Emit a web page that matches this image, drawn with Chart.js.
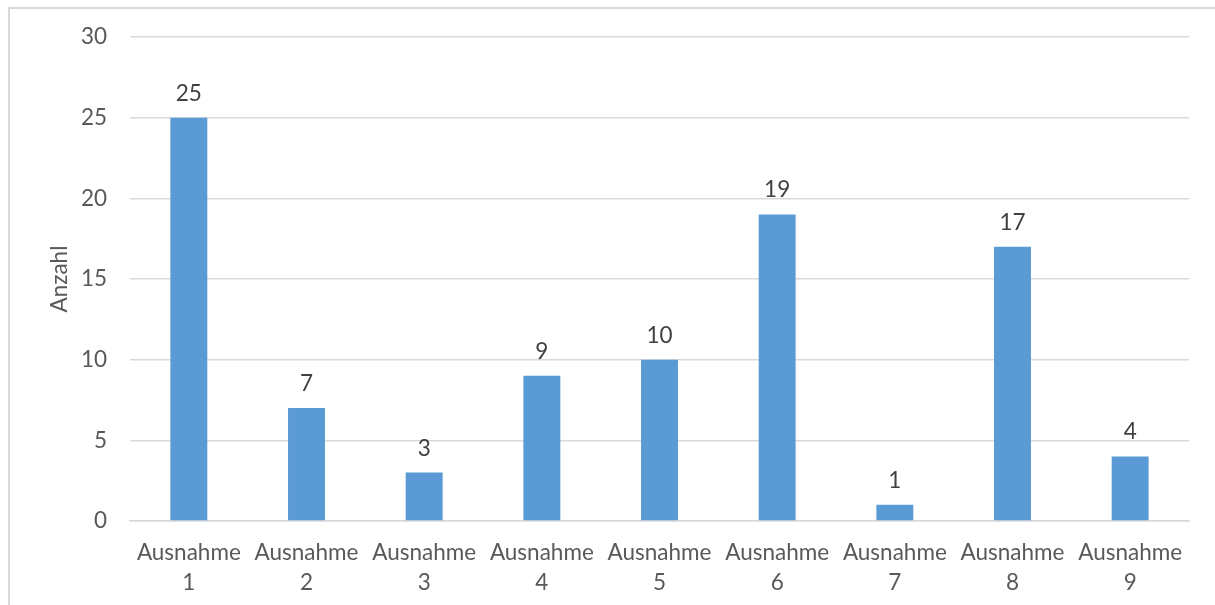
<!DOCTYPE html>
<html lang="de">
<head>
<meta charset="utf-8">
<title>Anzahl je Ausnahme</title>
<script src="https://cdn.jsdelivr.net/npm/chart.js@4.4.1/dist/chart.umd.min.js"></script>
<style>
  html, body { margin: 0; padding: 0; background: #ffffff; }
  body { width: 1215px; height: 605px; position: relative; overflow: hidden; }
  #frame {
    position: absolute; left: 8px; top: 7px; width: 1215px; height: 605px;
    border-top: 2px solid #d9d9d9; border-left: 2px solid #d9d9d9;
  }
  #wrap { position: absolute; left: 0; top: 0; width: 1215px; height: 605px; }
</style>
</head>
<body>
<div id="frame"></div>
<div id="wrap"><canvas id="chart" width="1215" height="605"></canvas></div>
<script>
// Categories and counts
const categories = [
  ['Ausnahme', '1'], ['Ausnahme', '2'], ['Ausnahme', '3'],
  ['Ausnahme', '4'], ['Ausnahme', '5'], ['Ausnahme', '6'],
  ['Ausnahme', '7'], ['Ausnahme', '8'], ['Ausnahme', '9']
];
const counts = [25, 7, 3, 9, 10, 19, 1, 17, 4];
const yTicks = [0, 5, 10, 15, 20, 25, 30];
const yTitle = 'Anzahl';

const FONT = 'Lato, "Open Sans", sans-serif';

// Writes each bar's value above it
const valueLabels = {
  id: 'valueLabels',
  afterDatasetsDraw(chart) {
    const ctx = chart.ctx;
    const meta = chart.getDatasetMeta(0);
    const data = chart.data.datasets[0].data;
    ctx.save();
    ctx.font = '22.5px ' + FONT;
    ctx.fillStyle = '#404040';
    ctx.textAlign = 'center';
    ctx.textBaseline = 'alphabetic';
    meta.data.forEach((bar, i) => {
      ctx.fillText(String(data[i]), bar.x, bar.y - 17);
    });
    ctx.restore();
  }
};

new Chart(document.getElementById('chart'), {
  type: 'bar',
  data: {
    labels: categories,
    datasets: [{
      data: counts,
      backgroundColor: '#5b9bd5',
      borderWidth: 0,
      categoryPercentage: 1,
      barPercentage: 0.314
    }]
  },
  options: {
    responsive: false,
    animation: false,
    events: [],
    layout: { padding: { top: 37, right: 26, bottom: 0, left: 0 } },
    plugins: {
      legend: { display: false },
      tooltip: { enabled: false }
    },
    scales: {
      x: {
        grid: { display: false, drawTicks: false },
        border: { display: true, color: '#d9d9d9', width: 1.5 },
        ticks: {
          color: '#595959',
          font: { family: FONT, size: 22.5, lineHeight: 1.33 },
          padding: 17,
          maxRotation: 0,
          autoSkip: false
        },
        afterFit(scale) { scale.height = 84; }
      },
      y: {
        min: 0,
        max: 30,
        afterBuildTicks(scale) { scale.ticks = yTicks.map(v => ({ value: v })); },
        grid: { color: '#d9d9d9', lineWidth: 1.5, drawTicks: false },
        border: { display: false },
        ticks: {
          color: '#595959',
          font: { family: FONT, size: 22.5 },
          padding: 23
        },
        title: {
          display: true,
          text: yTitle,
          color: '#595959',
          font: { family: FONT, size: 22.5 },
          padding: { top: 46, bottom: 0 }
        },
        afterFit(scale) { scale.width = 130; }
      }
    }
  },
  plugins: [valueLabels]
});
</script>
</body>
</html>
